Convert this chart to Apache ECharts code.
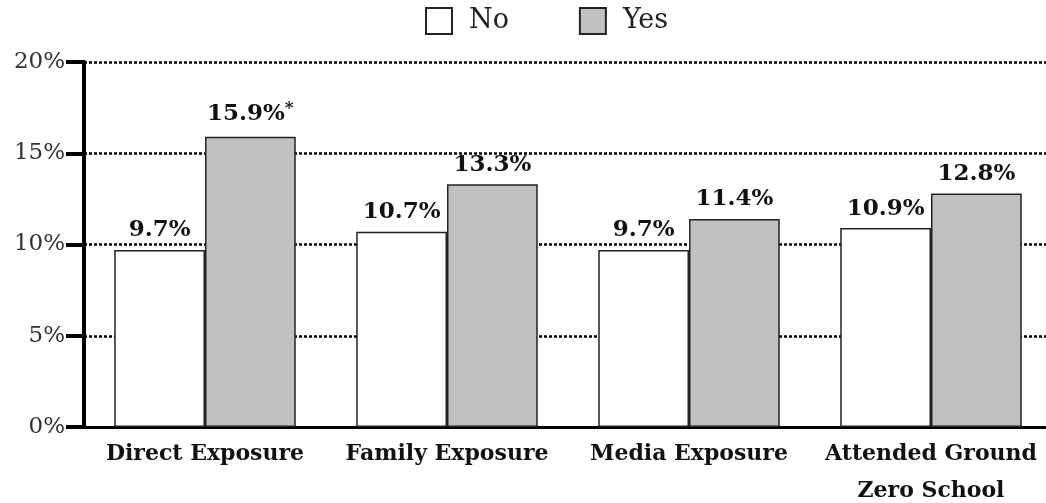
<!DOCTYPE html>
<html>
<head>
<meta charset="utf-8">
<script src="https://cdn.jsdelivr.net/npm/echarts@6/dist/echarts.min.js"></script>
<style>
  html, body { margin: 0; padding: 0; background: #fff; }
  #chart { width: 1046px; height: 503px; }
</style>
</head>
<body>
<div id="chart"></div>
<script>
// categories and values
const categories = ['Direct Exposure', 'Family Exposure', 'Media Exposure', 'Attended Ground\nZero School']
const noValues = [9.7, 10.7, 9.7, 10.9]
const yesValues = [15.9, 13.3, 11.4, 12.8]
// significance marker per category (Yes series)
const yesStars = [true, false, false, false]

const serif = '"DejaVu Serif", "Liberation Serif", serif'

const chart = echarts.init(document.getElementById('chart'))

const option = {
  animation: false,
  backgroundColor: '#fff',
  textStyle: { fontFamily: serif },
  legend: {
    top: 2,
    left: 420,
    itemWidth: 26,
    itemHeight: 26,
    itemGap: 70,
    icon: 'rect',
    textStyle: { fontFamily: serif, fontSize: 27, color: '#222', padding: [0, 0, 0, 12] },
    data: ['No', 'Yes']
  },
  grid: {
    left: 84,
    top: 62,
    width: 968,
    height: 365,
    outerBoundsMode: 'none'
  },
  xAxis: {
    type: 'category',
    data: categories,
    axisLine: { lineStyle: { color: '#000', width: 3 } },
    axisTick: { show: false },
    axisLabel: {
      interval: 0,
      margin: 9,
      fontFamily: serif,
      fontSize: 22,
      fontWeight: 'bold',
      color: '#111',
      lineHeight: 37
    }
  },
  yAxis: {
    type: 'value',
    min: 0,
    max: 20,
    interval: 5,
    axisLine: { show: true, lineStyle: { color: '#000', width: 4 } },
    axisTick: { show: true, length: 18, lineStyle: { color: '#000', width: 4 } },
    axisLabel: {
      formatter: '{value}%',
      margin: 19,
      fontFamily: serif,
      fontSize: 23,
      color: '#333'
    },
    splitLine: { lineStyle: { color: '#000', width: 2.5, type: [3, 2] } }
  },
  series: [
    {
      name: 'No',
      type: 'bar',
      data: noValues,
      barGap: '0%',
      barCategoryGap: '25%',
      itemStyle: { color: '#fff', borderColor: '#222', borderWidth: 1.5 },
      label: {
        show: true,
        position: 'top',
        distance: 8,
        formatter: (p) => p.value.toFixed(1) + '%',
        fontFamily: serif,
        fontSize: 23,
        fontWeight: 'bold',
        color: '#111'
      }
    },
    {
      name: 'Yes',
      type: 'bar',
      data: yesValues,
      itemStyle: { color: '#c0c0c0', borderColor: '#222', borderWidth: 1.5 },
      label: {
        show: true,
        position: 'top',
        distance: 8,
        formatter: (p) => p.value.toFixed(1) + '%' + (yesStars[p.dataIndex] ? '{s|*}' : ''),
        fontFamily: serif,
        fontSize: 23,
        fontWeight: 'bold',
        color: '#111',
        rich: {
          s: { fontFamily: serif, fontSize: 17, fontWeight: 'bold', color: '#111', verticalAlign: 'top', padding: [0, 0, 12, 0] }
        }
      }
    }
  ]
}

chart.setOption(option)
</script>
</body>
</html>
